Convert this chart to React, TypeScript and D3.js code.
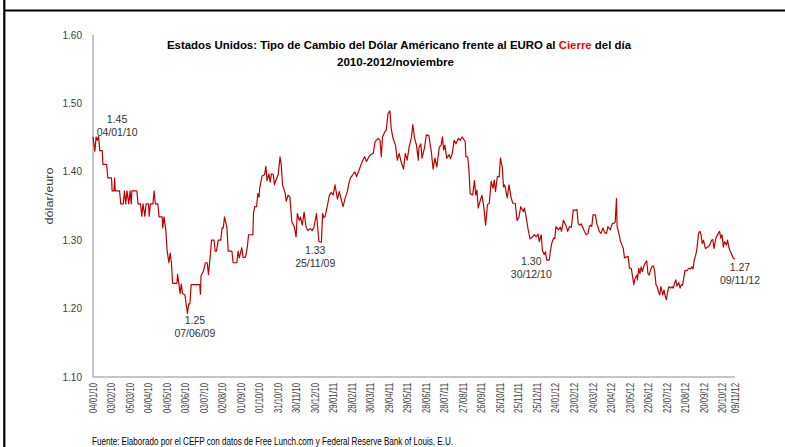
import React from 'react'
import { scaleLinear, scaleTime, line, timeDay, timeParse } from 'd3'

const W = 785
const H = 447
const margin = { top: 35, right: 50, bottom: 70, left: 93 }

const parseDay = timeParse('%d/%m/%y')
const firstDay = '04/01/10'
const lastDay = '09/11/12'

// [days since 04/01/10, dólar per euro at close]
const closeByDay: [number, number][] = [
  [0, 1.451], [3, 1.43], [5, 1.451], [7, 1.446], [9, 1.452], [11, 1.431], [15, 1.431], [16, 1.411],
  [22, 1.411], [24, 1.391], [30, 1.391], [31, 1.372], [34, 1.372], [35, 1.391], [36, 1.372], [43, 1.372],
  [45, 1.353], [49, 1.353], [51, 1.372], [53, 1.353], [55, 1.372], [58, 1.353], [60, 1.372], [62, 1.353],
  [63, 1.372], [71, 1.372], [73, 1.353], [77, 1.353], [79, 1.335], [81, 1.353], [84, 1.335], [86, 1.353],
  [90, 1.353], [91, 1.335], [93, 1.353], [97, 1.353], [99, 1.372], [101, 1.353], [105, 1.353], [107, 1.334],
  [112, 1.334], [113, 1.318], [115, 1.334], [118, 1.315], [120, 1.285], [123, 1.267], [125, 1.281], [127, 1.267],
  [129, 1.237], [136, 1.237], [137, 1.25], [139, 1.237], [141, 1.222], [143, 1.236], [145, 1.222], [149, 1.22],
  [151, 1.206], [153, 1.193], [155, 1.207], [157, 1.207], [159, 1.235], [173, 1.235], [174, 1.221], [175, 1.248],
  [179, 1.255], [182, 1.267], [185, 1.267], [187, 1.25], [190, 1.277], [192, 1.3], [196, 1.3], [198, 1.284],
  [200, 1.284], [203, 1.3], [207, 1.3], [209, 1.318], [211, 1.318], [213, 1.334], [217, 1.318], [219, 1.284],
  [225, 1.284], [227, 1.267], [233, 1.267], [235, 1.284], [237, 1.274], [241, 1.289], [243, 1.275], [247, 1.275],
  [250, 1.29], [252, 1.308], [256, 1.308], [259, 1.308], [260, 1.339], [262, 1.349], [265, 1.349], [267, 1.368],
  [269, 1.363], [270, 1.376], [274, 1.394], [278, 1.396], [280, 1.408], [282, 1.387], [285, 1.397], [287, 1.385],
  [289, 1.397], [292, 1.396], [294, 1.381], [296, 1.387], [300, 1.396], [303, 1.422], [305, 1.41], [307, 1.381],
  [311, 1.37], [313, 1.357], [316, 1.366], [319, 1.363], [322, 1.327], [326, 1.32], [329, 1.305], [331, 1.339],
  [334, 1.329], [336, 1.334], [339, 1.322], [342, 1.341], [345, 1.32], [348, 1.314], [352, 1.317], [355, 1.314],
  [358, 1.319], [362, 1.339], [366, 1.298], [370, 1.297], [372, 1.339], [374, 1.333], [376, 1.335], [380, 1.352],
  [383, 1.366], [386, 1.37], [389, 1.366], [392, 1.381], [396, 1.36], [399, 1.371], [402, 1.36], [405, 1.349],
  [409, 1.363], [412, 1.371], [414, 1.381], [417, 1.391], [421, 1.396], [424, 1.4], [427, 1.393], [430, 1.4],
  [434, 1.41], [437, 1.417], [440, 1.422], [443, 1.415], [447, 1.422], [450, 1.425], [454, 1.427], [457, 1.444],
  [462, 1.449], [465, 1.446], [467, 1.422], [469, 1.451], [473, 1.459], [475, 1.461], [478, 1.485], [481, 1.489],
  [483, 1.464], [486, 1.449], [490, 1.439], [493, 1.417], [496, 1.427], [499, 1.415], [503, 1.404], [506, 1.427],
  [509, 1.417], [512, 1.436], [516, 1.451], [518, 1.469], [521, 1.449], [524, 1.439], [527, 1.417], [528, 1.435],
  [531, 1.441], [533, 1.42], [537, 1.435], [540, 1.454], [544, 1.453], [548, 1.43], [551, 1.404], [554, 1.42],
  [557, 1.407], [561, 1.436], [564, 1.439], [566, 1.451], [568, 1.432], [570, 1.439], [573, 1.42], [577, 1.425],
  [579, 1.419], [582, 1.427], [585, 1.446], [588, 1.441], [592, 1.449], [595, 1.446], [598, 1.451], [603, 1.444],
  [604, 1.422], [607, 1.422], [609, 1.402], [611, 1.368], [615, 1.366], [618, 1.387], [620, 1.366], [622, 1.373],
  [624, 1.347], [627, 1.357], [630, 1.366], [633, 1.349], [636, 1.322], [639, 1.352], [642, 1.354], [645, 1.386],
  [648, 1.376], [650, 1.388], [652, 1.371], [655, 1.393], [658, 1.393], [660, 1.42], [663, 1.407], [665, 1.378],
  [667, 1.381], [671, 1.362], [674, 1.381], [677, 1.363], [680, 1.354], [684, 1.354], [687, 1.329], [690, 1.334],
  [693, 1.349], [697, 1.342], [699, 1.347], [702, 1.332], [705, 1.315], [708, 1.302], [712, 1.305], [715, 1.308],
  [718, 1.305], [721, 1.309], [723, 1.298], [726, 1.308], [728, 1.285], [731, 1.279], [733, 1.283], [735, 1.271],
  [739, 1.271], [741, 1.284], [743, 1.295], [746, 1.303], [748, 1.302], [750, 1.32], [754, 1.315], [757, 1.319],
  [759, 1.313], [762, 1.329], [766, 1.322], [769, 1.313], [772, 1.32], [775, 1.319], [778, 1.344], [782, 1.344],
  [784, 1.345], [786, 1.324], [789, 1.322], [791, 1.324], [796, 1.313], [799, 1.308], [802, 1.31], [804, 1.32],
  [806, 1.322], [808, 1.32], [810, 1.337], [814, 1.337], [816, 1.324], [818, 1.32], [820, 1.313], [823, 1.31],
  [826, 1.318], [829, 1.311], [832, 1.31], [834, 1.32], [838, 1.315], [841, 1.324], [844, 1.325], [846, 1.327],
  [848, 1.361], [849, 1.32], [852, 1.31], [854, 1.3], [856, 1.295], [859, 1.288], [861, 1.274], [865, 1.276],
  [867, 1.276], [869, 1.259], [872, 1.259], [874, 1.247], [876, 1.235], [878, 1.244], [881, 1.249], [882, 1.242],
  [884, 1.259], [886, 1.251], [888, 1.261], [890, 1.254], [893, 1.264], [895, 1.267], [897, 1.27], [899, 1.251],
  [901, 1.249], [903, 1.256], [906, 1.262], [908, 1.262], [910, 1.254], [912, 1.235], [914, 1.232], [916, 1.225],
  [918, 1.22], [920, 1.232], [923, 1.22], [925, 1.227], [927, 1.218], [929, 1.213], [931, 1.225], [933, 1.232],
  [936, 1.23], [938, 1.232], [940, 1.23], [942, 1.237], [944, 1.242], [946, 1.233], [949, 1.238], [951, 1.23],
  [953, 1.235], [955, 1.234], [957, 1.245], [959, 1.256], [962, 1.255], [965, 1.259], [968, 1.258], [970, 1.261],
  [972, 1.258], [974, 1.271], [976, 1.277], [978, 1.285], [981, 1.31], [983, 1.313], [985, 1.308], [987, 1.295],
  [989, 1.3], [992, 1.288], [996, 1.29], [999, 1.293], [1002, 1.3], [1004, 1.301], [1006, 1.288], [1009, 1.303],
  [1013, 1.31], [1015, 1.313], [1017, 1.303], [1019, 1.308], [1021, 1.29], [1023, 1.298], [1026, 1.293], [1028, 1.3],
  [1030, 1.29], [1032, 1.284], [1034, 1.281], [1037, 1.274], [1040, 1.272],
]

const yTicks = [1.1, 1.2, 1.3, 1.4, 1.5, 1.6]

const xTickLabels = [
  '04/01/10', '03/02/10', '05/03/10', '04/04/10', '04/05/10', '03/06/10', '03/07/10', '02/08/10', '01/09/10',
  '01/10/10', '31/10/10', '30/11/10', '30/12/10', '29/01/11', '28/02/11', '30/03/11', '29/04/11', '29/05/11',
  '28/06/11', '28/07/11', '27/08/11', '26/09/11', '26/10/11', '25/11/11', '25/12/11', '24/01/12', '23/02/12',
  '24/03/12', '23/04/12', '23/05/12', '22/06/12', '22/07/12', '21/08/12', '20/09/12', '20/10/12', '09/11/12',
]

// labels written on the chart, anchored at [day, value]
const noteValues = ['1.45', '1.25', '1.33', '1.30', '1.27']
const noteDates = ['04/01/10', '07/06/09', '25/11/09', '30/12/10', '09/11/12']
const noteAnchors: [number, number][] = [[39, 1.477], [165, 1.183], [360, 1.285], [710, 1.269], [1048, 1.261]]

const titleParts = ['Estados Unidos: Tipo de Cambio del Dólar Américano frente al EURO al ', 'Cierre', ' del día']
const subtitle = '2010-2012/noviembre'
const yTitle = 'dólar/euro'
const source = 'Fuente: Elaborado por el CEFP con datos de Free Lunch.com y Federal Reserve Bank of Louis, E.U.'

const font = "'Liberation Sans', Arial, sans-serif"

export default function App() {
  const start = parseDay(firstDay) as Date
  const end = parseDay(lastDay) as Date
  const x = scaleTime().domain([start, end]).range([margin.left, W - margin.right])
  const y = scaleLinear().domain([1.1, 1.6]).range([H - margin.bottom, margin.top])
  const dayX = (d: number) => x(timeDay.offset(start, d))

  const path = line<[number, number]>()
    .x(d => dayX(d[0]))
    .y(d => y(d[1]))(closeByDay)

  const x0 = margin.left
  const x1 = W - margin.right
  const yBase = H - margin.bottom

  return (
    <svg width={W} height={H} style={{ position: 'absolute', left: 0, top: 0, background: '#fff' }} fontFamily={font}>
      <rect x={0} y={0} width={W} height={H} fill="#fff" />
      {/* frame */}
      <line x1={4.3} x2={4.3} y1={0} y2={H} stroke="#000" strokeWidth={2.2} />
      <line x1={4} x2={W} y1={10.5} y2={10.5} stroke="#000" strokeWidth={2.2} />

      {/* title */}
      <text x={167} y={49} fontSize={11.5} fontWeight="bold" fill="#000" textLength={464} lengthAdjust="spacingAndGlyphs">
        <tspan>{titleParts[0]}</tspan>
        <tspan fill="#ff0000">{titleParts[1]}</tspan>
        <tspan>{titleParts[2]}</tspan>
      </text>
      <text x={337} y={66} fontSize={11.5} fontWeight="bold" fill="#000" textLength={117} lengthAdjust="spacingAndGlyphs">
        {subtitle}
      </text>

      {/* axes */}
      <line x1={x0} x2={x0} y1={margin.top} y2={yBase} stroke="#8c8c8c" strokeWidth={1} />
      <line x1={x0} x2={x1} y1={yBase} y2={yBase} stroke="#8c8c8c" strokeWidth={1} />

      {yTicks.map(t => (
        <text key={t} x={82} y={y(t) + 3.5} fontSize={10} textAnchor="end" fill="#404040">
          {t.toFixed(2)}
        </text>
      ))}
      <text
        transform={`translate(53,${196}) rotate(-90)`}
        fontSize={10}
        textAnchor="middle"
        fill="#404040"
        textLength={57}
        lengthAdjust="spacingAndGlyphs"
      >
        {yTitle}
      </text>

      {xTickLabels.map(l => {
        const tx = x(parseDay(l) as Date)
        return (
          <text
            key={l}
            transform={`translate(${tx + 3.5},383) rotate(-90)`}
            fontSize={10}
            textAnchor="end"
            fill="#404040"
            textLength={30}
            lengthAdjust="spacingAndGlyphs"
          >
            {l}
          </text>
        )
      })}

      {/* series */}
      <path d={path ?? ''} fill="none" stroke="#c00000" strokeWidth={1.2} strokeLinejoin="round" />

      {/* notes */}
      {noteAnchors.map((a, i) => (
        <g key={i} fontSize={10.5} fill="#333" textAnchor="middle">
          <text x={dayX(a[0])} y={y(a[1]) + 4}>{noteValues[i]}</text>
          <text x={dayX(a[0])} y={y(a[1]) + 17}>{noteDates[i]}</text>
        </g>
      ))}

      <text x={92} y={445} fontSize={10.5} fill="#000" textLength={361} lengthAdjust="spacingAndGlyphs">
        {source}
      </text>
    </svg>
  )
}
